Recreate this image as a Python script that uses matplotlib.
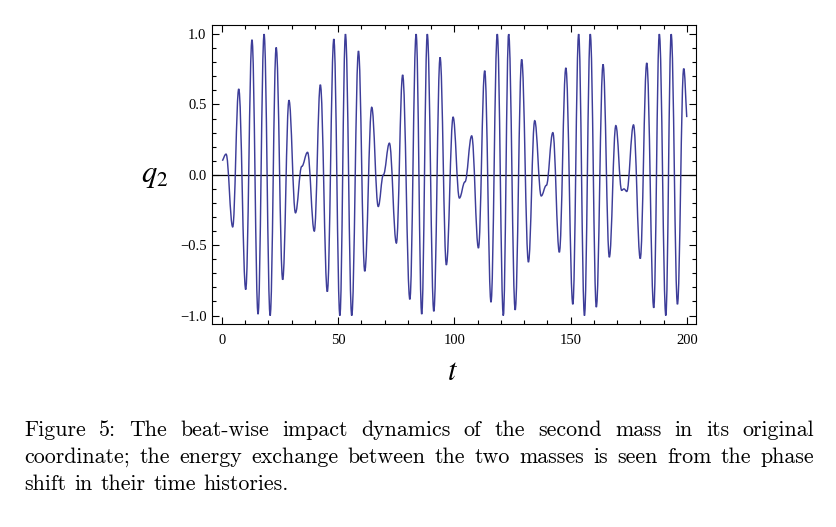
#LIBRARIES
import matplotlib
matplotlib.use("Agg")
import matplotlib.pyplot as plt
from matplotlib.path import Path
from matplotlib.patches import PathPatch
from matplotlib.ticker import MultipleLocator

#DATA (turning points of q2(t))
t_pts = [0.27, 1.85, 4.7, 7.3, 10.3, 13.0, 15.6, 18.2, 20.8, 23.4, 26.2, 28.9,
         31.7, 34.4, 36.9, 39.8, 42.4, 45.4, 48.2, 50.8, 53.2, 55.9, 58.8, 61.5,
         64.5, 67.3, 69.5, 72.1, 75.1, 77.8, 80.9, 83.6, 86.0, 88.4, 91.2, 93.9,
         96.6, 99.5, 102.2, 104.6, 107.5, 110.4, 113.1, 115.8, 118.5, 121.1,
         123.4, 126.2, 129.0, 131.9, 134.6, 137.4, 139.6, 142.4, 145.2, 148.0,
         151.0, 153.5, 156.0, 158.5, 161.1, 164.0, 166.7, 169.5, 172.0, 173.0,
         174.2, 177.1, 180.0, 182.8, 185.8, 188.2, 191.0, 193.3, 196.0, 198.7,
         200.0]
q_pts = [0.10, 0.147, -0.37, 0.61, -0.815, 0.96, -0.99, 1.0, -1.0, 0.905, -0.745, 0.53,
         -0.27, 0.06, 0.16, -0.40, 0.64, -0.83, 0.965, -1.0, 1.0, -1.0, 0.88, -0.685,
         0.48, -0.225, 0.0, 0.225, -0.485, 0.71, -0.885, 1.0, -0.99, 1.0, -0.97, 0.835,
         -0.64, 0.41, -0.165, -0.05, 0.277, -0.52, 0.74, -0.905, 1.0, -1.0,
         1.0, -0.96, 0.82, -0.62, 0.385, -0.15, -0.075, 0.30, -0.55, 0.76,
         -0.92, 1.0, -1.0, 1.0, -0.94, 0.785, -0.585, 0.35, -0.11, -0.10,
         -0.118, 0.355, -0.595, 0.795, -0.945, 1.0, -1.0, 1.0, -0.92, 0.755,
         0.41]

x_ticks = [0, 50, 100, 150, 200]
y_ticks = [-1.0, -0.5, 0.0, 0.5, 1.0]

caption = [
    "Figure 5:  The beat-wise impact dynamics of the second mass in its original",
    "coordinate; the energy exchange between the two masses is seen from the phase",
    "shift in their time histories.",
]

#FIGURE
plt.rcParams["mathtext.fontset"] = "stix"
fig = plt.figure(figsize=(8.36, 5.27), dpi=100)
ax = fig.add_axes([0.2536, 0.3852, 0.579, 0.5674])

#smooth curve: cubic segments with flat tangents at each turning point
k = 0.39
verts = [(t_pts[0], q_pts[0])]
codes = [Path.MOVETO]
for i in range(len(t_pts) - 1):
    t0, q0, t1, q1 = t_pts[i], q_pts[i], t_pts[i + 1], q_pts[i + 1]
    dt = t1 - t0
    if i == 0:
        c1 = (t0 + k * dt, q0 + k * (q1 - q0))
    else:
        c1 = (t0 + k * dt, q0)
    if i == len(t_pts) - 2:
        c2 = (t1 - k * dt, q1 - k * (q1 - q0))
    else:
        c2 = (t1 - k * dt, q1)
    verts += [c1, c2, (t1, q1)]
    codes += [Path.CURVE4] * 3
ax.add_patch(PathPatch(Path(verts, codes), facecolor="none",
                       edgecolor="#3d3d99", lw=1.05, zorder=3))

ax.axhline(0, color="black", lw=0.9, zorder=2)

#AXES
ax.set_xlim(-4.2, 204)
ax.set_ylim(-1.06, 1.065)
ax.set_xticks(x_ticks)
ax.set_yticks(y_ticks)
ax.set_xticklabels([str(v) for v in x_ticks])
ax.set_yticklabels(["\u22121.0", "\u22120.5", "0.0", "0.5", "1.0"])
ax.xaxis.set_minor_locator(MultipleLocator(10))
ax.yaxis.set_minor_locator(MultipleLocator(0.1))
ax.tick_params(which="both", direction="in", top=True, right=True, width=0.8,
               labelsize=10.5)
ax.tick_params(which="major", length=5)
ax.tick_params(which="minor", length=2.8)
ax.tick_params(axis="x", pad=7)
ax.tick_params(axis="y", pad=4)
for lab in ax.get_xticklabels() + ax.get_yticklabels():
    lab.set_fontfamily("Liberation Serif")
for s in ax.spines.values():
    s.set_linewidth(0.8)

fig.text(155 / 836, 1 - 176 / 527, "$q_2$", fontsize=22, ha="center", va="center")
fig.text(453 / 836, 1 - 372 / 527, "$t$", fontsize=22, ha="center", va="center")

#CAPTION (justified lines)
renderer = fig.canvas.get_renderer()
left, right = 24, 814
baselines = [436, 463, 490]
for i, line in enumerate(caption):
    words = [w for w in line.split(" ") if w != ""]
    texts = []
    widths = []
    for w in words:
        tx = fig.text(0, 0, w, fontsize=15.8, family="cmr10", va="baseline")
        widths.append(tx.get_window_extent(renderer).width)
        texts.append(tx)
    if i < len(caption) - 1:
        gap = (right - left - sum(widths)) / (len(words) - 1)
    else:
        gap = 8.0
    x = left
    for tx, w in zip(texts, widths):
        tx.set_position((x / 836, 1 - baselines[i] / 527))
        x += w + gap

fig.savefig("out.png", dpi=100)
